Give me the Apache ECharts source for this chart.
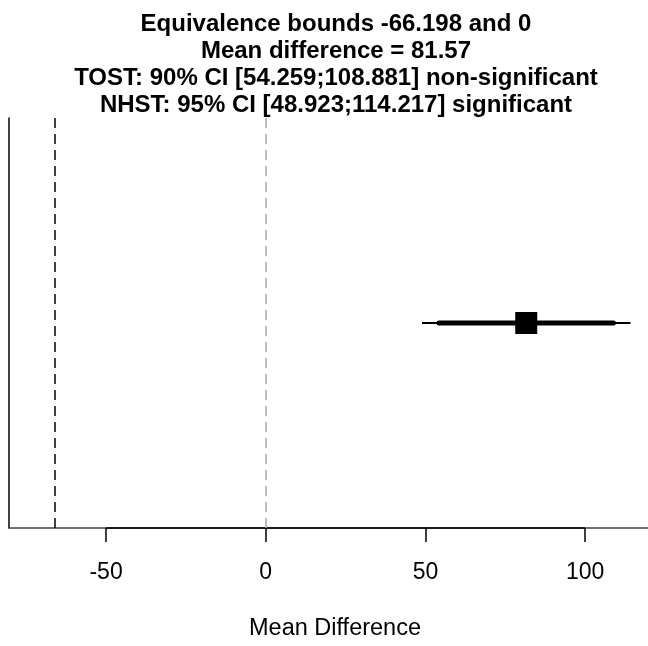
<!DOCTYPE html>
<html>
<head>
<meta charset="utf-8">
<script src="https://cdn.jsdelivr.net/npm/echarts@6/dist/echarts.min.js"></script>
<style>html,body{margin:0;padding:0;background:#fff;}#c{width:648px;height:646px;}</style>
</head>
<body>
<div id="c"></div>
<script>
const titleLines = [
  'Equivalence bounds -66.198 and 0',
  'Mean difference = 81.57',
  'TOST: 90% CI [54.259;108.881] non-significant',
  'NHST: 95% CI [48.923;114.217] significant'
];
const meanDiff = 81.57;
const ci90 = [54.259, 108.881];
const ci95 = [48.923, 114.217];
const eqBounds = [-66.198, 0];
const xTicks = [-50, 0, 50, 100];
const xRange = [-80.4, 119.7];
const yMid = 0.5;

const chart = echarts.init(document.getElementById('c'), null, {renderer: 'canvas'});
const font = 'Liberation Sans, Arial, Helvetica, sans-serif';
function vLine(x, color) {
  return {
    type: 'line',
    data: [],
    symbol: 'none',
    silent: true,
    z: 2,
    markLine: {
      silent: true,
      symbol: 'none',
      animation: false,
      label: {show: false},
      lineStyle: {color: color, type: [10, 6], width: 1.5, opacity: 1},
      emphasis: {disabled: true},
      data: [{xAxis: x}]
    }
  };
}
chart.setOption({
  animation: false,
  backgroundColor: '#fff',
  title: {
    text: titleLines.join('\n'),
    left: 331,
    textAlign: 'center',
    top: 6,
    textStyle: {fontFamily: font, fontWeight: 'bold', fontSize: 24, lineHeight: 27, color: '#000'}
  },
  grid: {left: 9, right: 0, top: 118, bottom: 114, containLabel: false},
  xAxis: {
    type: 'value',
    min: xRange[0],
    max: xRange[1],
    name: 'Mean Difference',
    nameLocation: 'middle',
    nameGap: 89,
    nameTextStyle: {fontFamily: font, fontSize: 23.5, color: '#000', padding: [0, 0, 0, 13]},
    axisLine: {show: true, onZero: false, lineStyle: {color: '#444', width: 1.5}},
    axisTick: {show: true, inside: false, length: 14, customValues: xTicks, lineStyle: {color: '#000', width: 1.5}},
    axisLabel: {show: true, customValues: xTicks, margin: 33, fontFamily: font, fontSize: 23, color: '#000'},
    splitLine: {show: false}
  },
  yAxis: {
    type: 'value',
    min: 0,
    max: 1,
    axisLine: {show: true, onZero: false, lineStyle: {color: '#000', width: 1.5}},
    axisTick: {show: false},
    axisLabel: {show: false},
    splitLine: {show: false}
  },
  series: [
    {
      type: 'line',
      data: [[xTicks[0], 0], [xTicks[xTicks.length - 1], 0]],
      symbol: 'none',
      clip: false,
      silent: true,
      lineStyle: {color: '#000', width: 1.6},
      z: 1
    },
    vLine(eqBounds[0], '#000000'),
    vLine(eqBounds[1], '#a6a6a6'),
    {
      type: 'line',
      data: [[ci95[0], yMid], [ci95[1], yMid]],
      symbol: 'none',
      silent: true,
      lineStyle: {color: '#000', width: 2},
      z: 3
    },
    {
      type: 'line',
      data: [[ci90[0], yMid], [ci90[1], yMid]],
      symbol: 'none',
      silent: true,
      lineStyle: {color: '#000', width: 5, cap: 'round'},
      z: 4
    },
    {
      type: 'scatter',
      data: [[meanDiff, yMid]],
      symbol: 'rect',
      symbolSize: 22,
      silent: true,
      itemStyle: {color: '#000', opacity: 1},
      z: 5
    }
  ]
});
</script>
</body>
</html>
